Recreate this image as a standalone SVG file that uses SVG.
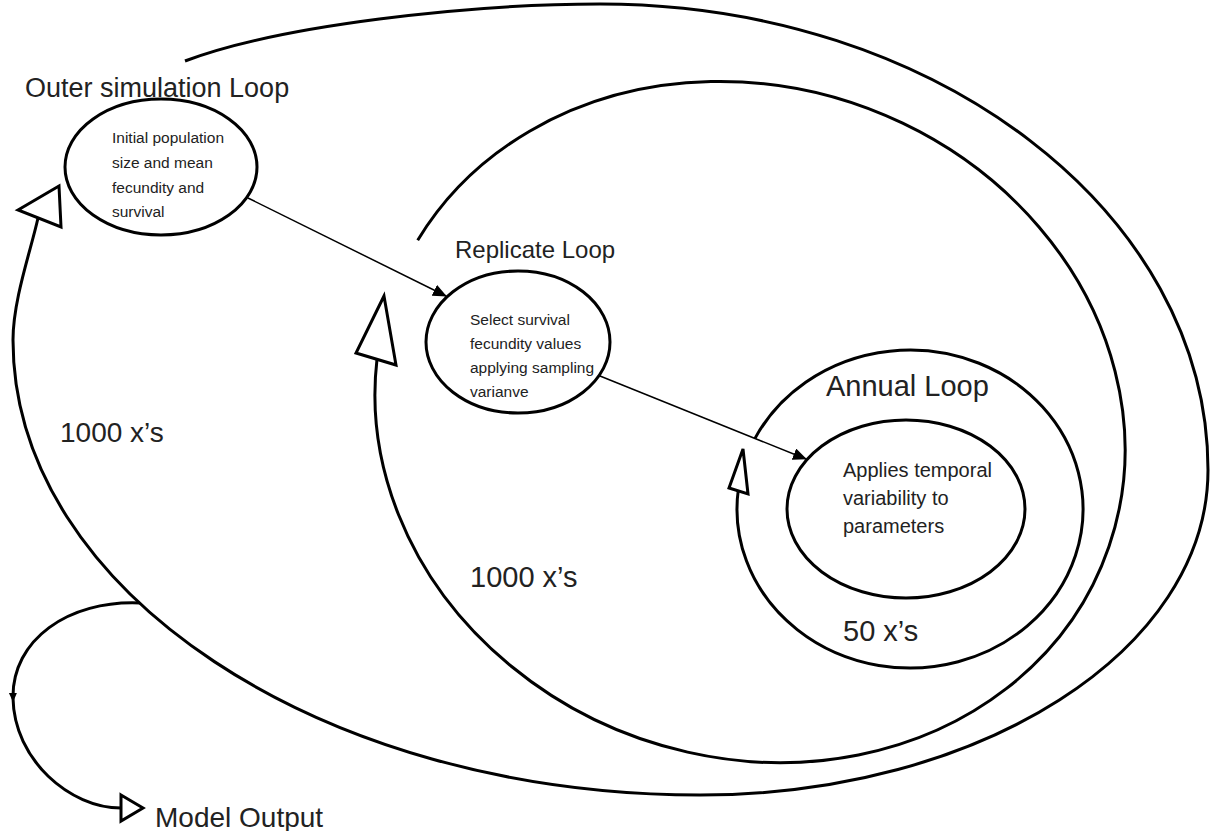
<svg xmlns="http://www.w3.org/2000/svg" width="1212" height="831" viewBox="0 0 1212 831">
<style>
.loop{fill:none;stroke:#000;stroke-width:3}
.node{fill:#fff;stroke:#000;stroke-width:3}
.head{fill:#fff;stroke:#000;stroke-width:3;stroke-linejoin:miter}
.conn{fill:none;stroke:#000;stroke-width:1.5}
.lbl{font-family:"Liberation Sans",Arial,sans-serif;fill:#222}
.t1{font-size:15.5px}
.t3{font-size:20px}
</style>
<defs>
<marker id="ah" markerUnits="userSpaceOnUse" markerWidth="14" markerHeight="12" refX="13" refY="6" orient="auto">
<path d="M0,0 L14,6 L0,12 Z" fill="#000"/>
</marker>
<marker id="mid" markerUnits="userSpaceOnUse" markerWidth="10" markerHeight="10" refX="5" refY="5" orient="auto">
<path d="M0,1 L9,5 L0,9 Z" fill="#000"/>
</marker>
</defs>
<g id="connectors">
<path id="outer-loop" class="loop" d="M185,61 C280,25 470,4 600,4 C936,4 1208,213 1208,470 C1208,650 981,795 700,795 C321,795 13,591 13,340 C13,300 31,250 38,218"/>
<path id="replicate-loop" class="loop" d="M417.7,240.2 A380 335 20 1 1 377,359.2"/>
<path id="annual-loop" class="loop" d="M755,438.4 A173 159 0 1 1 738.5,488.1"/>
<path id="to-output" class="loop" d="M140,603 C68,600 12,640 13,698 C14,760 70,808 121,808" marker-mid="url(#mid)"/>
<line class="conn" x1="248" y1="198" x2="446" y2="296" marker-end="url(#ah)"/>
<line class="conn" x1="600" y1="376" x2="806" y2="459" marker-end="url(#ah)"/>
<polygon class="head" points="18,210 59,186 61,227"/>
<polygon class="head" points="384,296 356,353 396,365"/>
<polygon class="head" points="743,449 729,488 748,494"/>
<polygon class="head" points="121,795 143,808 121,821"/>
</g>
<g id="outer-label"><text class="lbl" font-size="27" x="25" y="97">Outer simulation Loop</text></g>
<g id="initial-node">
<ellipse class="node" cx="161" cy="167" rx="96" ry="68"/>
<text class="lbl t1"><tspan x="112" y="143">Initial population</tspan><tspan x="112" y="168">size and mean</tspan><tspan x="112" y="193">fecundity and</tspan><tspan x="112" y="217">survival</tspan></text>
</g>
<g id="replicate-label"><text class="lbl" font-size="24" x="455" y="258">Replicate Loop</text></g>
<g id="select-node">
<ellipse class="node" cx="518" cy="342" rx="92" ry="71"/>
<text class="lbl t1"><tspan x="470" y="325">Select survival</tspan><tspan x="470" y="349">fecundity values</tspan><tspan x="470" y="373">applying sampling</tspan><tspan x="470" y="397">varianve</tspan></text>
</g>
<g id="annual-label"><text class="lbl" font-size="29" x="826" y="396">Annual Loop</text></g>
<g id="applies-node">
<ellipse class="node" cx="906" cy="509" rx="119" ry="89"/>
<text class="lbl t3"><tspan x="843" y="477">Applies temporal</tspan><tspan x="843" y="505">variability to</tspan><tspan x="843" y="533">parameters</tspan></text>
</g>
<g id="counts">
<text class="lbl" font-size="28" x="60" y="442">1000 x’s</text>
<text class="lbl" font-size="29" x="470" y="587">1000 x’s</text>
<text class="lbl" font-size="29" x="843" y="641">50 x’s</text>
</g>
<g id="model-output"><text class="lbl" font-size="28" x="155" y="827">Model Output</text></g>
</svg>
